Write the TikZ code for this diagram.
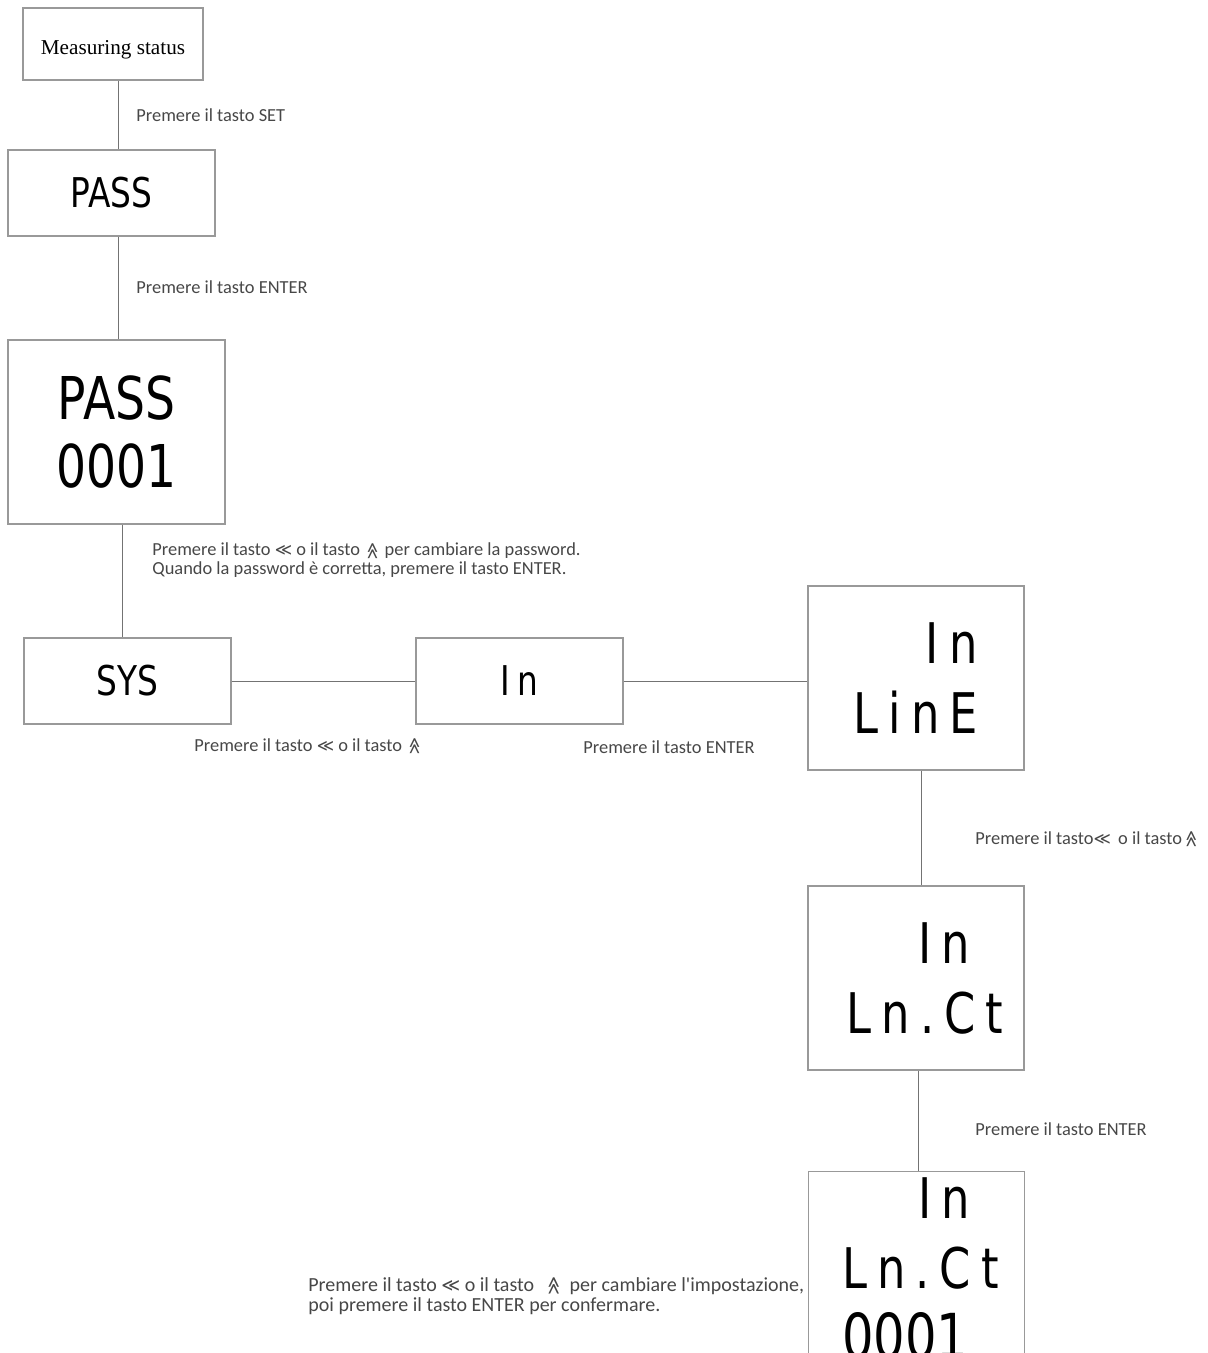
\documentclass[tikz,border=0pt]{standalone}
\usepackage{fontspec}
\usepackage{graphicx}
\setmainfont{Carlito}
\newfontfamily\serifface{Liberation Serif}
\newfontfamily\lcdface[FakeStretch=0.8]{DejaVu Sans}
\newfontfamily\lcdwide[FakeStretch=0.8,LetterSpace=18]{DejaVu Sans}
\newfontfamily\symface{DejaVu Sans}
\newcommand{\keyleft}{{\symface\scalebox{0.9}{≪}}}
\newcommand{\keyup}{\rotatebox[origin=c]{-90}{\symface\scalebox{0.9}{≪}}}
\usetikzlibrary{positioning}
\colorlet{boxline}{black!40}
\colorlet{wireline}{black!55}
\colorlet{hinttext}{black!72}
\tikzset{
  box/.style={draw=boxline, line width=0.7pt, rectangle, inner sep=0pt, align=center},
  small/.style={box, minimum width=103.5pt, minimum height=43pt, font=\lcdface\fontsize{20.5}{24}\selectfont},
  screen/.style={box, minimum width=108pt, minimum height=92pt, align=left, font=\lcdwide\fontsize{28}{35}\selectfont},
  hint/.style={text=hinttext, font=\fontsize{9.2}{9.6}\selectfont, inner sep=0pt, anchor=west, align=left},
  wire/.style={draw=wireline, line width=0.5pt}
}

\begin{document}
\begin{tikzpicture}[x=0.5pt, y=-0.5pt]
  \useasboundingbox (0,0) rectangle (1208,1353);
  \clip (0,0) rectangle (1208,1353);
  % boxes
  \node[box, minimum width=90pt, minimum height=36pt, text height=11pt, text depth=0pt, font=\serifface\fontsize{10.6}{12}\selectfont] (ms) at (113,44) {Measuring status};
  \node[small] (pass) at (111.5,193) {PASS};
  \node[box, minimum width=108.5pt, minimum height=92pt, font=\lcdface\fontsize{29.5}{34}\selectfont] (pass2) at (116.5,432) {PASS\\0001};
  \node[small] (sys) at (127.5,681) {SYS};
  \node[small, font=\lcdwide\fontsize{20.5}{24}\selectfont] (inbox) at (519.5,681) {In};
  \node[screen] (line) at (916,678) {\hspace*{36pt}In\\LinE};
  \node[screen] (lnct) at (916,978) {\hspace*{45pt}In\\\hspace*{9pt}Ln.Ct};
  \node[screen, minimum height=97pt, anchor=north] (lnval) at (916.5,1171) {\hspace*{42pt}In\\\hspace*{4pt}Ln.Ct\\\hspace*{4pt}{\lcdface\fontsize{31}{35}\selectfont 0001}};
  % connectors
  \draw[wire] ([xshift=2.5pt]ms.south) -- ([xshift=2.5pt]ms.south |- pass.north);
  \draw[wire] ([xshift=3.25pt]pass.south) -- ([xshift=3.25pt]pass.south |- pass2.north);
  \draw[wire] ([xshift=2.75pt]pass2.south) -- ([xshift=2.75pt]pass2.south |- sys.north);
  \draw[wire] (sys.east) -- (inbox.west);
  \draw[wire] (inbox.east) -- (inbox.east -| line.west);
  \draw[wire] ([xshift=2.5pt]line.south) -- ([xshift=2.5pt]line.south |- lnct.north);
  \draw[wire] ([xshift=1pt]lnct.south) -- ([xshift=1pt]lnct.south |- lnval.north);
  % hints
  \node[hint] (h1) at (136,115) {Premere il tasto SET};
  \node[hint] (h2) at (136,287) {Premere il tasto ENTER};
  \node[hint] (h3) at (152,560) {Premere il tasto \keyleft{} o il tasto \,\keyup{}\, per cambiare la password.\\Quando la password è corretta, premere il tasto ENTER.};
  \node[hint] (h4) at (194,746) {Premere il tasto \keyleft{} o il tasto \,\keyup};
  \node[hint] (h5) at (583,747) {Premere il tasto ENTER};
  \node[hint] (h6) at (975,839) {Premere il tasto\keyleft{}\, o il tasto \keyup};
  \node[hint] (h7) at (975,1129) {Premere il tasto ENTER};
  \node[hint, font=\fontsize{10}{10}\selectfont] (h8) at (308,1296) {Premere il tasto \keyleft{} o il tasto \enspace\keyup{}\enspace per cambiare l\textquotesingle impostazione,\\poi premere il tasto ENTER per confermare.};
\end{tikzpicture}
\end{document}
